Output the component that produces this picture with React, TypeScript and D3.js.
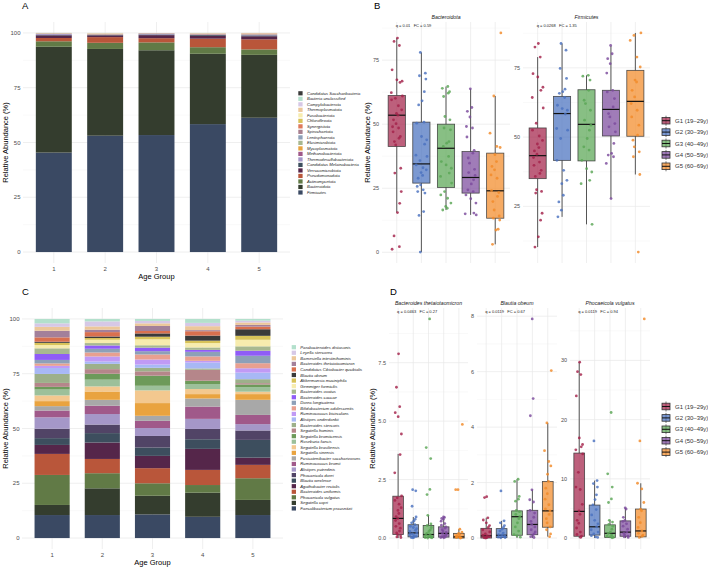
import React from "react";
import * as d3 from "d3";

const FONT = "'Liberation Sans', Arial, Helvetica, sans-serif";
const GRID_MAJOR = "#e8e8e8";
const GRID_MINOR = "#f3f3f3";
const TICK = "#4d4d4d";

// ---------- shared ----------
const ageGroups = ["1", "2", "3", "4", "5"];
const groupLabels = ["G1 (19–29y)", "G2 (30–39y)", "G3 (40–49y)", "G4 (50–59y)", "G5 (60–69y)"];
const groupColors = ["#a3224a", "#4a72bf", "#5aa655", "#7b4a9c", "#f28a28"];
// fixed horizontal spread pattern for the dot strips
const JITTER = [0.12, -0.71, 0.55, -0.18, 0.83, -0.46, 0.31, -0.92, 0.67, -0.05, 0.44, -0.62, 0.95, -0.33, 0.21, -0.79, 0.6, -0.24, 0.76, -0.55, 0.02, 0.38, -0.88, 0.5, -0.12, 0.9, -0.4, 0.27];

// ---------- A: phylum composition (stack order bottom -> top) ----------
const phyla = [
  "Firmicutes", "Bacteroidota", "Actinomycetota", "Pseudomonadota", "Verrucomicrobiota",
  "Candidatus Melainabacteria", "Thermodesulfobacteriota", "Methanobacteriota", "Mycoplasmatota",
  "Elusimicrobiota", "Lentisphaerota", "Spirochaetota", "Synergistota", "Chloroflexota",
  "Fusobacteriota", "Thermoplasmatota", "Campylobacterota", "Bacteria unclassified", "Candidatus Saccharibacteria",
];
const phylaColors = [
  "#3a4963", "#343d2e", "#617a46", "#b9563a", "#55264a",
  "#3d4e5e", "#a597c8", "#a0598a", "#e9a33f",
  "#a8b890", "#8da0b8", "#a8808f", "#de7a5a", "#d8c35a",
  "#f7ecae", "#ecc79a", "#d6c8e6", "#b3e0cc", "#3a3a3a",
];
const phylaG1 = [45.4, 48.3, 2.5, 1.5, 1.2, 0.2, 0.4, 0.1, 0.1, 0.05, 0.05, 0.05, 0.02, 0.02, 0.03, 0.02, 0.02, 0.02, 0.02];
const phylaG2 = [53.1, 39.6, 2.8, 2.6, 0.8, 0.2, 0.2, 0.1, 0.1, 0.05, 0.05, 0.05, 0.02, 0.06, 0.1, 0.12, 0.02, 0.02, 0.01];
const phylaG3 = [53.4, 38.7, 3.6, 1.9, 1.4, 0.3, 0.35, 0.1, 0.05, 0.05, 0.03, 0.03, 0.02, 0.02, 0.02, 0.01, 0.01, 0.01, 0.0];
const phylaG4 = [58.4, 32.1, 3.0, 3.9, 1.3, 0.4, 0.2, 0.15, 0.1, 0.05, 0.05, 0.05, 0.05, 0.05, 0.05, 0.1, 0.03, 0.01, 0.01];
const phylaG5 = [61.3, 28.7, 2.5, 4.6, 1.4, 0.4, 0.25, 0.15, 0.1, 0.05, 0.05, 0.1, 0.15, 0.05, 0.05, 0.1, 0.03, 0.01, 0.01];

// ---------- C: species composition (stack order bottom -> top) ----------
const species = [
  "Faecalibacterium prausnitzii", "Segatella copri", "Phocaeicola vulgatus", "Bacteroides uniformis",
  "Agathobacter rectalis", "Blautia wexlerae", "Phocaeicola dorei", "Alistipes putredinis",
  "Ruminococcus bromii", "Fusicatenibacter saccharivorans", "Segatella sinensis", "Segatella brasiliensis",
  "Roseburia faecis", "Segatella bromiicensis", "Segatella hominis", "Bacteroides stercoris",
  "Alistipes onderdonkii", "Ruminococcus bicirculans", "Bifidobacterium adolescentis", "Dorea longicatena",
  "Bacteroides caccae", "Bacteroides ovatus", "Gemmiger formicilis", "Akkermansia muciniphila",
  "Blautia obeum", "Candidatus Cibiobacter qucibialis", "Bacteroides thetaiotaomicron",
  "Barnesiella intestinihominis", "Leyella stercorea", "Parabacteroides distasonis",
];
const speciesColors = [
  "#3a4963", "#343d2e", "#617a46", "#b9563a",
  "#55264a", "#3d4e5e", "#514466", "#a597c8",
  "#a0598a", "#a8a8a8", "#e9a33f", "#f3c88f",
  "#9cc09a", "#6d9a5a", "#b5868a", "#9db08a",
  "#a8b8f5", "#c09af5", "#e8a090", "#8da0b8",
  "#8f5cf7", "#a8b890", "#f7ecae", "#d8c35a",
  "#3a3a3a", "#d9704f", "#a3809a",
  "#ecc79a", "#d6c8e6", "#b3e0cc",
];
const speciesG1 = [10.5, 4.6, 13.7, 9.6, 4.1, 3.1, 4.3, 5.2, 3.1, 2.0, 2.3, 2.6, 2.7, 1.2, 1.8, 4.1, 2.7, 1.0, 1.1, 1.6, 2.7, 2.6, 1.5, 1.0, 0.5, 2.0, 3.0, 1.8, 1.6, 2.0];
const speciesG2 = [10.5, 12.2, 6.9, 6.5, 7.5, 4.3, 3.9, 4.8, 3.8, 2.7, 3.8, 2.3, 3.1, 2.7, 2.1, 2.4, 1.1, 2.3, 1.8, 1.7, 1.5, 1.1, 1.5, 0.8, 0.7, 2.0, 1.1, 1.5, 2.3, 1.1];
const speciesG3 = [10.8, 8.5, 5.7, 6.9, 5.6, 3.8, 5.3, 3.6, 3.3, 2.3, 5.8, 5.8, 2.1, 4.6, 2.0, 1.6, 1.5, 2.3, 2.3, 1.5, 1.6, 1.1, 2.7, 1.2, 1.5, 1.1, 2.3, 1.2, 1.1, 0.9];
const speciesG4 = [9.7, 11.0, 3.5, 6.9, 9.6, 4.4, 4.7, 4.6, 5.6, 3.7, 2.0, 2.3, 2.3, 1.5, 5.0, 0.6, 2.7, 0.8, 2.0, 2.1, 0.9, 1.1, 2.0, 1.1, 2.3, 2.0, 0.5, 1.8, 1.5, 1.8];
const speciesG5 = [10.5, 6.9, 9.9, 6.1, 3.3, 8.1, 4.3, 2.9, 4.2, 6.9, 2.6, 1.1, 2.1, 1.2, 0.6, 1.8, 3.0, 2.0, 2.3, 3.4, 2.3, 2.0, 3.0, 1.8, 3.0, 1.2, 0.8, 1.1, 0.8, 0.8];

// ---------- B: phylum-level boxplots ----------
// box stats per group: [lower whisker, Q1, median, Q3, upper whisker]
const bacteroidotaBoxes = [
  [15.5, 41.3, 53.5, 61.2, 83.6],
  [0.1, 27.0, 34.5, 50.8, 78.0],
  [16.5, 25.3, 40.6, 50.0, 64.7],
  [14.6, 23.1, 29.2, 39.3, 63.8],
  [3.1, 13.3, 24.0, 38.7, 61.0],
];
const bacteroidotaPoints = [
  [83.6, 82.3, 80.7, 71.2, 67.3, 66.8, 66.3, 62.3, 61.0, 60.1, 59.5, 57.2, 55.6, 54.2, 53.5, 51.7, 50.2, 49.0, 48.5, 47.0, 45.2, 44.5, 43.2, 41.9, 32.8, 30.9, 23.7, 19.1, 15.5, 6.4, 2.2, 1.2],
  [78.0, 69.9, 68.9, 67.6, 62.7, 59.1, 57.5, 50.8, 50.4, 45.2, 43.9, 42.2, 37.9, 37.4, 35.8, 34.1, 33.0, 32.2, 31.1, 30.0, 28.9, 26.3, 25.7, 24.4, 23.7, 23.1, 15.9, 14.4, 0.1],
  [64.7, 64.0, 62.7, 62.1, 60.8, 53.0, 51.7, 48.5, 47.8, 43.2, 42.6, 41.3, 37.4, 35.4, 34.1, 32.8, 30.9, 29.6, 27.0, 23.7, 22.4, 21.1, 19.2, 17.9, 17.2, 16.5],
  [63.8, 56.5, 55.0, 52.8, 49.1, 48.5, 45.0, 39.8, 38.7, 36.8, 34.8, 32.4, 31.1, 30.0, 28.3, 26.7, 24.4, 23.7, 22.4, 20.9, 19.2, 15.3, 15.0, 14.6],
  [85.6, 61.0, 46.5, 41.3, 40.9, 38.1, 35.4, 33.5, 32.2, 30.2, 28.9, 24.1, 23.3, 21.8, 19.8, 16.5, 14.2, 13.3, 12.6, 9.0, 8.7, 3.1],
];
const firmicutesBoxes = [
  [10.3, 35.0, 43.3, 53.3, 78.9],
  [21.2, 41.6, 58.5, 64.7, 83.8],
  [18.5, 41.4, 54.6, 67.1, 72.3],
  [27.8, 50.4, 60.0, 66.9, 82.9],
  [36.5, 50.3, 62.9, 74.1, 87.6],
];
const firmicutesPoints = [
  [83.8, 82.5, 78.9, 72.9, 71.7, 68.0, 66.9, 64.3, 60.5, 55.0, 52.5, 50.4, 48.8, 47.5, 46.2, 45.0, 43.8, 42.6, 41.0, 39.8, 38.0, 36.9, 35.8, 31.0, 30.4, 29.8, 22.5, 20.0, 14.0, 10.3],
  [83.8, 81.4, 74.8, 71.2, 67.3, 66.4, 65.8, 64.3, 61.5, 60.3, 59.7, 58.3, 53.1, 52.5, 49.5, 41.6, 38.0, 34.4, 33.2, 29.0, 26.6, 23.6, 21.2],
  [72.3, 72.0, 70.6, 66.9, 63.3, 62.1, 59.7, 56.1, 54.3, 52.5, 49.5, 46.5, 45.3, 41.6, 38.6, 37.4, 34.4, 33.2, 18.5],
  [83.1, 80.1, 78.3, 76.5, 73.1, 66.9, 66.3, 63.9, 60.9, 58.5, 57.3, 54.9, 53.7, 51.9, 47.7, 44.1, 43.5, 42.9, 40.5, 27.8],
  [87.6, 86.7, 84.9, 78.9, 75.3, 70.6, 69.9, 66.9, 64.5, 62.1, 59.7, 57.3, 54.3, 50.7, 48.9, 46.5, 44.7, 42.9, 36.5, 8.5],
];

// ---------- D: species-level boxplots ----------
const thetaBoxes = [
  [0.0, 0.15, 0.84, 1.79, 3.6],
  [0.0, 0.05, 0.22, 0.57, 0.9],
  [0.0, 0.02, 0.15, 0.54, 0.97],
  [0.0, 0.04, 0.2, 0.48, 0.9],
  [0.0, 0.0, 0.05, 0.2, 0.38],
];
const thetaPoints = [
  [7.88, 6.45, 5.62, 5.36, 5.19, 4.45, 3.57, 2.79, 1.8, 1.72, 1.61, 1.45, 1.3, 1.18, 1.05, 0.92, 0.84, 0.75, 0.62, 0.5, 0.42, 0.3, 0.22, 0.15, 0.1, 0.05, 0.02],
  [2.07, 2.02, 1.36, 0.9, 0.8, 0.72, 0.65, 0.57, 0.5, 0.45, 0.4, 0.33, 0.28, 0.22, 0.18, 0.14, 0.1, 0.07, 0.05, 0.03, 0.02, 0.01],
  [9.37, 3.87, 3.4, 2.08, 1.86, 0.97, 0.6, 0.54, 0.45, 0.35, 0.28, 0.2, 0.15, 0.12, 0.08, 0.05, 0.03, 0.02, 0.01, 0.0],
  [0.9, 0.88, 0.84, 0.8, 0.72, 0.62, 0.55, 0.48, 0.42, 0.36, 0.3, 0.24, 0.2, 0.16, 0.12, 0.09, 0.06, 0.04, 0.02, 0.01],
  [4.86, 2.07, 2.07, 0.38, 0.25, 0.2, 0.15, 0.1, 0.06, 0.05, 0.03, 0.02, 0.01, 0.0],
];
const obeumBoxes = [
  [0.0, 0.0, 0.08, 0.35, 0.73],
  [0.0, 0.02, 0.1, 0.34, 0.62],
  [0.0, 0.1, 0.77, 0.98, 2.12],
  [0.0, 0.12, 0.49, 1.0, 1.74],
  [0.05, 0.39, 0.98, 2.04, 4.15],
];
const obeumPoints = [
  [1.49, 1.46, 0.73, 0.65, 0.55, 0.45, 0.38, 0.3, 0.22, 0.15, 0.1, 0.08, 0.05, 0.03, 0.02, 0.01, 0.0],
  [1.7, 0.62, 0.55, 0.45, 0.38, 0.32, 0.25, 0.18, 0.12, 0.1, 0.07, 0.05, 0.03, 0.02, 0.01],
  [2.12, 2.04, 1.5, 1.4, 1.33, 1.0, 0.95, 0.85, 0.77, 0.7, 0.55, 0.4, 0.25, 0.12, 0.08, 0.03],
  [7.9, 5.03, 4.41, 1.74, 1.38, 1.3, 1.0, 0.9, 0.75, 0.6, 0.49, 0.4, 0.3, 0.22, 0.15, 0.1, 0.05, 0.02],
  [6.04, 4.15, 3.15, 2.76, 2.6, 2.3, 2.04, 1.8, 1.6, 1.4, 1.2, 1.05, 0.98, 0.85, 0.7, 0.55, 0.4, 0.3, 0.15, 0.05],
];
const vulgatusBoxes = [
  [0.0, 0.3, 4.5, 14.35, 29.7],
  [0.0, 0.5, 1.9, 5.57, 9.7],
  [0.0, 0.1, 0.8, 2.23, 3.0],
  [0.0, 0.3, 1.0, 2.9, 5.1],
  [0.0, 0.2, 1.2, 4.9, 9.25],
];
const vulgatusPoints = [
  [29.7, 28.1, 27.6, 24.0, 16.9, 15.8, 15.4, 14.9, 14.2, 11.1, 8.6, 8.2, 5.7, 4.6, 4.0, 3.0, 2.5, 1.7, 1.0, 0.6, 0.3, 0.1],
  [16.4, 9.7, 9.2, 8.6, 7.3, 6.5, 5.6, 4.8, 3.9, 3.0, 2.4, 1.9, 1.4, 1.0, 0.7, 0.4, 0.2, 0.1],
  [21.2, 10.85, 8.6, 6.6, 6.0, 3.0, 2.7, 2.3, 2.0, 1.5, 1.0, 0.8, 0.5, 0.3, 0.2, 0.1, 0.05],
  [5.1, 4.9, 3.5, 3.0, 2.8, 2.4, 2.0, 1.5, 1.0, 0.8, 0.5, 0.3, 0.2, 0.1],
  [37.0, 16.4, 9.25, 8.3, 6.0, 4.9, 4.6, 3.5, 2.6, 1.8, 1.2, 0.8, 0.5, 0.3, 0.1],
];

// ---------- components ----------
type StackProps = {
  x0: number; x1: number; yTop: number; yBot: number;
  rows: number[][]; names: string[]; colors: string[];
  legendKeyX: number; legendY0: number; legendStep: number; tag: string; tagX: number;
};

function StackedPanel(p: StackProps) {
  const x = d3.scalePoint<string>().domain(ageGroups).range([p.x0, p.x1]).padding(0.6);
  const bw = x.step() * 0.7;
  const y = d3.scaleLinear().domain([-5, 105]).range([p.yBot, p.yTop]);
  const series = d3.stack<number[], number>()
    .keys(d3.range(p.names.length))
    .value((r, k) => r[k])(p.rows);
  const majors = [0, 25, 50, 75, 100];
  const minors = [12.5, 37.5, 62.5, 87.5];
  const yMid = (p.yTop + p.yBot) / 2;
  const legendOrder = d3.range(p.names.length).reverse();
  return (
    <g>
      <text x={p.tagX} y={p.yTop - 17} fontSize={9.5} fill="#000" dominantBaseline="central">{p.tag}</text>
      {minors.map((v) => (
        <line key={"mi" + v} x1={p.x0} x2={p.x1} y1={y(v)} y2={y(v)} stroke={GRID_MINOR} strokeWidth={0.5} />
      ))}
      {majors.map((v) => (
        <line key={"ma" + v} x1={p.x0} x2={p.x1} y1={y(v)} y2={y(v)} stroke={GRID_MAJOR} strokeWidth={0.7} />
      ))}
      {ageGroups.map((g) => (
        <line key={"vg" + g} x1={x(g)} x2={x(g)} y1={p.yTop} y2={p.yBot} stroke={GRID_MAJOR} strokeWidth={0.7} />
      ))}
      {series.map((s, i) =>
        s.map((d, j) => (
          <rect key={i + "-" + j} x={(x(ageGroups[j]) as number) - bw / 2} y={y(d[1])}
            width={bw} height={Math.max(0, y(d[0]) - y(d[1]))} fill={p.colors[i]} />
        ))
      )}
      {majors.map((v) => (
        <text key={"yt" + v} x={p.x0 - 2.5} y={y(v)} fontSize={6} fill={TICK} textAnchor="end" dominantBaseline="central">{v}</text>
      ))}
      {ageGroups.map((g) => (
        <text key={"xt" + g} x={x(g)} y={p.yBot + 5.5} fontSize={6} fill={TICK} textAnchor="middle" dominantBaseline="central">{g}</text>
      ))}
      <text x={(p.x0 + p.x1) / 2} y={p.yBot + 13.5} fontSize={7.5} fill="#000" textAnchor="middle" dominantBaseline="central">Age Group</text>
      <text transform={`translate(5,${yMid}) rotate(-90)`} fontSize={7.5} fill="#000" textAnchor="middle" dominantBaseline="central">Relative Abundance (%)</text>
      {legendOrder.map((k, i) => {
        const cy = p.legendY0 + i * p.legendStep;
        return (
          <g key={"lg" + k}>
            <rect x={p.legendKeyX} y={cy - 2.1} width={4.3} height={4.2} fill={p.colors[k]} />
            <text x={p.legendKeyX + 8.6} y={cy} fontSize={4.2} fontStyle="italic" fill="#1a1a1a" dominantBaseline="central">{p.names[k]}</text>
          </g>
        );
      })}
    </g>
  );
}

type BoxProps = {
  x0: number; x1: number; yTop: number; yBot: number;
  title: string; note: string; boxes: number[][]; points: number[][];
  ticks: number[]; fmt: (v: number) => string;
};

function BoxFacet(p: BoxProps) {
  const x = d3.scalePoint<string>().domain(ageGroups).range([p.x0, p.x1]).padding(0.6);
  const step = x.step();
  const bw = step * 0.7;
  const all = [...p.points.flat(), ...p.boxes.flat()];
  const lo = d3.min(all) as number;
  const hi = d3.max(all) as number;
  const pad = (hi - lo) * 0.05;
  const y = d3.scaleLinear().domain([lo - pad, hi + pad]).range([p.yBot, p.yTop]);
  const [d0, d1] = y.domain();
  const dt = p.ticks[1] - p.ticks[0];
  const majors = p.ticks.filter((t) => t >= d0 && t <= d1);
  const minors = [...p.ticks.map((t) => t - dt / 2), p.ticks[p.ticks.length - 1] + dt / 2].filter((t) => t >= d0 && t <= d1);
  return (
    <g>
      {minors.map((v) => (
        <line key={"mi" + v} x1={p.x0} x2={p.x1} y1={y(v)} y2={y(v)} stroke={GRID_MINOR} strokeWidth={0.5} />
      ))}
      {majors.map((v) => (
        <line key={"ma" + v} x1={p.x0} x2={p.x1} y1={y(v)} y2={y(v)} stroke={GRID_MAJOR} strokeWidth={0.7} />
      ))}
      {ageGroups.map((g) => (
        <line key={"vg" + g} x1={x(g)} x2={x(g)} y1={p.yTop} y2={p.yBot} stroke={GRID_MAJOR} strokeWidth={0.7} />
      ))}
      {majors.map((v) => (
        <text key={"yt" + v} x={p.x0 - 3} y={y(v)} fontSize={5.5} fill={TICK} textAnchor="end" dominantBaseline="central">{p.fmt(v)}</text>
      ))}
      <text x={(p.x0 + p.x1) / 2} y={p.yTop - 4.6} fontSize={5.2} fontStyle="italic" fill="#1a1a1a" textAnchor="middle" dominantBaseline="central">{p.title}</text>
      <text x={(x(ageGroups[0]) as number) - 1} y={p.yTop + 3.2} fontSize={4} fill="#1a1a1a" dominantBaseline="central" style={{ whiteSpace: "pre" }}>{p.note}</text>
      {p.boxes.map((b, g) => {
        const cx = x(ageGroups[g]) as number;
        const [wl, q1, md, q3, wh] = b;
        return (
          <g key={"bx" + g}>
            <line x1={cx} x2={cx} y1={y(q3)} y2={y(wh)} stroke="#555" strokeWidth={1} />
            <line x1={cx} x2={cx} y1={y(q1)} y2={y(wl)} stroke="#555" strokeWidth={1} />
            <rect x={cx - bw / 2} y={y(q3)} width={bw} height={Math.max(0.5, y(q1) - y(q3))}
              fill={groupColors[g]} fillOpacity={0.72} stroke="#333" strokeOpacity={0.85} strokeWidth={0.8} />
            <line x1={cx - bw / 2} x2={cx + bw / 2} y1={y(md)} y2={y(md)} stroke="#111" strokeWidth={1.2} />
          </g>
        );
      })}
      {p.points.map((arr, g) =>
        arr.map((v, i) => {
          const cx = (x(ageGroups[g]) as number) + JITTER[(i * 5 + g * 3) % JITTER.length] * 0.24 * step;
          return <circle key={g + "-" + i} cx={cx} cy={y(v)} r={1.4} fill={groupColors[g]} fillOpacity={0.82} />;
        })
      )}
    </g>
  );
}

function GroupLegend({ x, yc }: { x: number; yc: number }) {
  const stepY = 11.4;
  return (
    <g>
      {groupLabels.map((lab, i) => {
        const cy = yc + (i - 2) * stepY;
        return (
          <g key={lab}>
            <line x1={x + 4} x2={x + 4} y1={cy - 5} y2={cy + 5} stroke="#555" strokeWidth={0.8} />
            <rect x={x} y={cy - 3.3} width={8} height={6.6} fill={groupColors[i]} fillOpacity={0.72} stroke="#333" strokeWidth={0.8} />
            <line x1={x} x2={x + 8} y1={cy} y2={cy} stroke="#111" strokeWidth={1} />
            <text x={x + 13} y={cy} fontSize={6} fill="#333" dominantBaseline="central">{lab}</text>
          </g>
        );
      })}
    </g>
  );
}

function YTitle({ x, yc }: { x: number; yc: number }) {
  return (
    <text transform={`translate(${x},${yc}) rotate(-90)`} fontSize={7.5} fill="#000" textAnchor="middle" dominantBaseline="central">
      Relative Abundance (%)
    </text>
  );
}

const fmtInt = (v: number) => d3.format("d")(v);
const fmtOne = (v: number) => d3.format(".1f")(v);

export default function App() {
  const topY = 22, topB = 263;
  const botY = 308, botB = 549;
  return (
    <div style={{ position: "absolute", left: 0, top: 0, background: "#fff" }}>
      <svg width={708} height={567} viewBox="0 0 708 567" style={{ display: "block", fontFamily: FONT }}>
        <rect width={708} height={567} fill="#fff" />

        <StackedPanel x0={23} x1={290} yTop={topY} yBot={topB}
          rows={[phylaG1, phylaG2, phylaG3, phylaG4, phylaG5]} names={phyla} colors={phylaColors}
          legendKeyX={298.3} legendY0={93.3} legendStep={5.51} tag="A" tagX={22} />

        <StackedPanel x0={22} x1={283} yTop={botY} yBot={botB}
          rows={[speciesG1, speciesG2, speciesG3, speciesG4, speciesG5]} names={species} colors={speciesColors}
          legendKeyX={291.7} legendY0={347.2} legendStep={5.56} tag="C" tagX={22} />

        {/* B */}
        <text x={374} y={topY - 17} fontSize={9.5} fill="#000" dominantBaseline="central">B</text>
        <YTitle x={367.5} yc={(topY + topB) / 2} />
        <BoxFacet x0={382} x1={510} yTop={topY} yBot={topB} title="Bacteroidota" note="q = 0.01   FC = 0.59"
          boxes={bacteroidotaBoxes} points={bacteroidotaPoints} ticks={[0, 25, 50, 75]} fmt={fmtInt} />
        <BoxFacet x0={523} x1={650} yTop={topY} yBot={topB} title="Firmicutes" note="q = 0.0268   FC = 1.35"
          boxes={firmicutesBoxes} points={firmicutesPoints} ticks={[0, 25, 50, 75]} fmt={fmtInt} />
        <GroupLegend x={662} yc={143.5} />

        {/* D */}
        <text x={390} y={botY - 17} fontSize={9.5} fill="#000" dominantBaseline="central">D</text>
        <YTitle x={372} yc={(botY + botB) / 2} />
        <BoxFacet x0={389} x1={468} yTop={botY} yBot={botB} title="Bacteroides thetaiotaomicron" note="q = 0.0463   FC = 0.27"
          boxes={thetaBoxes} points={thetaPoints} ticks={[0, 2.5, 5, 7.5]} fmt={fmtOne} />
        <BoxFacet x0={477} x1={557} yTop={botY} yBot={botB} title="Blautia obeum" note="q = 0.0119   FC = 0.67"
          boxes={obeumBoxes} points={obeumPoints} ticks={[0, 2, 4, 6, 8]} fmt={fmtInt} />
        <BoxFacet x0={570} x1={650} yTop={botY} yBot={botB} title="Phocaeicola vulgatus" note="q = 0.0119   FC = 0.94"
          boxes={vulgatusBoxes} points={vulgatusPoints} ticks={[0, 10, 20, 30]} fmt={fmtInt} />
        <GroupLegend x={662} yc={429.3} />
      </svg>
    </div>
  );
}
